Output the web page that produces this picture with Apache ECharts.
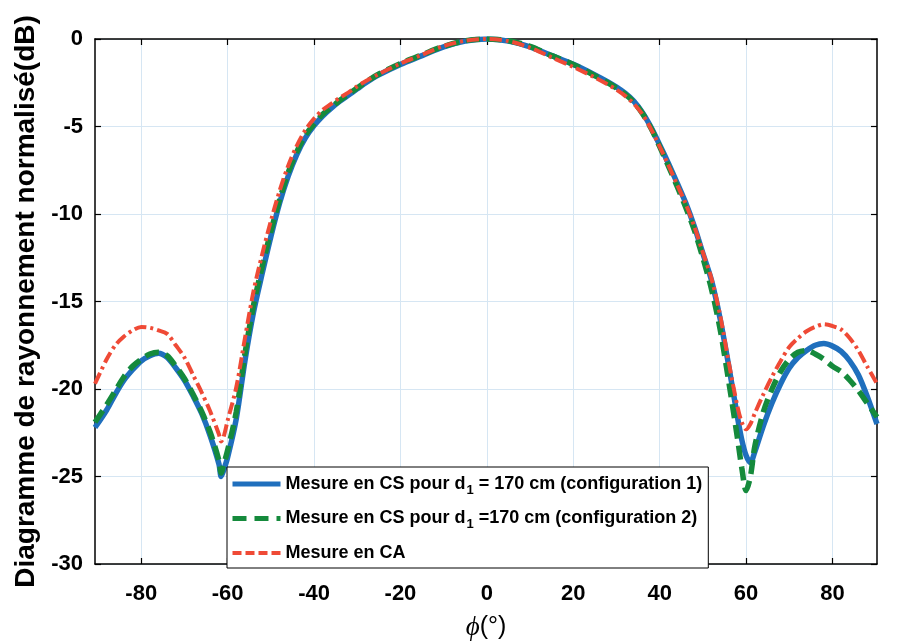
<!DOCTYPE html>
<html>
<head>
<meta charset="utf-8">
<script src="https://cdn.jsdelivr.net/npm/echarts@6/dist/echarts.min.js"></script>
<style>html,body{margin:0;padding:0;background:#fff;}#c{width:900px;height:642px;}</style>
</head>
<body>
<div id="c"></div>
<script>
// Angle (degrees)
const phi = [-90.7,-88,-86,-84,-82,-80,-78,-76,-74,-72,-70,-68,-66,-64,-62,-61.5,-61,-60,-58,-56,-54,-52,-50,-48,-46,-44,-42,-40,-38,-36,-34,-32,-30,-28,-25,-20,-15,-10,-5,0,
  5,10,15,20,25,28,30,32,34,36,38,40,42,44,46,48,50,52,54,56,58,59,60,61,62,64,66,68,70,72,74,76,78,80,82,84,86,88,90.3];
// Mesure en CS pour d1 = 170 cm (configuration 1)
const cs1 = [-22.2,-21.2,-20.3,-19.5,-18.9,-18.4,-18.1,-17.95,-18.2,-18.8,-19.5,-20.4,-21.4,-22.7,-24.3,-25.0,-24.7,-23.9,-21.7,-18.4,-15.6,-13.4,-11.3,-9.4,-7.85,-6.6,-5.65,-4.95,-4.4,-3.95,-3.55,-3.2,-2.85,-2.5,-2.05,-1.45,-0.95,-0.45,-0.12,0,
  -0.12,-0.45,-0.95,-1.45,-2.05,-2.45,-2.75,-3.1,-3.55,-4.2,-5.05,-6.05,-7.1,-8.2,-9.35,-10.7,-12.25,-13.8,-16.0,-18.7,-21.6,-22.9,-23.8,-24.2,-23.6,-22.1,-20.8,-19.7,-18.8,-18.2,-17.8,-17.5,-17.4,-17.55,-17.85,-18.4,-19.2,-20.4,-22.0];
// Mesure en CS pour d1 = 170 cm (configuration 2)
const cs2 = [-21.9,-20.9,-20.1,-19.3,-18.7,-18.3,-18.0,-17.9,-18.1,-18.7,-19.4,-20.3,-21.3,-22.5,-24.1,-24.8,-24.4,-23.5,-21.3,-18.0,-15.2,-13.0,-11.0,-9.2,-7.65,-6.45,-5.5,-4.85,-4.3,-3.9,-3.5,-3.15,-2.8,-2.45,-2.0,-1.4,-0.9,-0.42,-0.1,0,
  -0.1,-0.42,-0.95,-1.45,-2.1,-2.5,-2.8,-3.15,-3.6,-4.25,-5.1,-6.15,-7.25,-8.4,-9.6,-10.9,-12.5,-14.3,-16.6,-19.6,-22.8,-24.5,-25.8,-25.0,-23.3,-21.3,-20.0,-19.0,-18.3,-17.9,-17.8,-18.0,-18.3,-18.7,-19.0,-19.5,-20.1,-20.8,-21.6];
// Mesure en CA
const ca = [-19.7,-18.3,-17.5,-17.0,-16.65,-16.45,-16.5,-16.65,-16.85,-17.5,-18.2,-19.2,-20.2,-21.3,-22.6,-23.0,-22.8,-21.8,-19.9,-17.1,-14.4,-12.3,-10.4,-8.7,-7.25,-6.1,-5.2,-4.55,-4.05,-3.7,-3.35,-3.05,-2.7,-2.4,-2.0,-1.4,-0.9,-0.4,-0.1,0,
  -0.12,-0.5,-1.05,-1.6,-2.2,-2.6,-2.9,-3.25,-3.7,-4.3,-5.15,-6.15,-7.2,-8.3,-9.4,-10.7,-12.2,-13.7,-15.8,-18.5,-21.0,-21.9,-22.3,-22.0,-21.4,-20.3,-19.3,-18.4,-17.6,-17.1,-16.7,-16.45,-16.3,-16.4,-16.6,-17.1,-17.8,-18.7,-19.7];
const xTicks = [-80,-60,-40,-20,0,20,40,60,80];
const seriesNames = ['cs1','cs2','ca'];
const legendLabels = {
  cs1: 'Mesure en CS pour d{sub|1} = 170 cm (configuration 1)',
  cs2: 'Mesure en CS pour d{sub|1} =170 cm (configuration 2)',
  ca: 'Mesure en CA'
};
const FONT = '"Liberation Sans", Arial, sans-serif';
const C1 = '#1f6fbd', C2 = '#158a3c', C3 = '#ef4a36';

const chart = echarts.init(document.getElementById('c'), null, {renderer:'canvas'});
const pairs = arr => phi.map((p,i)=>[p, arr[i]]);
const xMin = -90.7, xMax = 90.3;
const gridColor = '#d6e6f3';

chart.setOption({
  animation:false,
  backgroundColor:'#ffffff',
  grid:{left:95, right:23, top:39, bottom:78, containLabel:false, outerBoundsMode:'none'},
  xAxis:[{
    type:'value', min:xMin, max:xMax, position:'bottom',
    name:'{p|ϕ}{n|(°)}', nameLocation:'middle', nameGap:50,
    nameTextStyle:{rich:{
      p:{fontFamily:'"Liberation Serif", "DejaVu Serif", serif', fontStyle:'italic', fontSize:27, color:'#000'},
      n:{fontFamily:FONT, fontSize:25, color:'#000'}
    }},
    axisLine:{show:true, onZero:false, lineStyle:{color:'#000', width:1.5}},
    axisTick:{show:true, inside:true, length:6, customValues:xTicks, lineStyle:{color:'#000', width:1.2}},
    axisLabel:{customValues:xTicks, margin:19, fontFamily:FONT, fontWeight:'bold', fontSize:22, color:'#000'},
    splitLine:{show:true, lineStyle:{color:gridColor, width:1}}
  },{
    type:'value', min:xMin, max:xMax, position:'top',
    axisLine:{show:true, onZero:false, lineStyle:{color:'#000', width:1.5}},
    axisTick:{show:true, inside:true, length:6, customValues:xTicks, lineStyle:{color:'#000', width:1.2}},
    axisLabel:{show:false}, splitLine:{show:false}
  }],
  yAxis:[{
    type:'value', min:-30, max:0, interval:5, position:'left',
    name:'Diagramme de rayonnement normalisé(dB)', nameLocation:'middle', nameGap:53,
    nameTextStyle:{fontFamily:FONT, fontWeight:'bold', fontSize:28, color:'#000'},
    axisLine:{show:true, onZero:false, lineStyle:{color:'#000', width:1.5}},
    axisTick:{show:true, inside:true, length:6, lineStyle:{color:'#000', width:1.2}},
    axisLabel:{margin:12, fontFamily:FONT, fontWeight:'bold', fontSize:22, color:'#000'},
    splitLine:{show:true, lineStyle:{color:gridColor, width:1}}
  },{
    type:'value', min:-30, max:0, interval:5, position:'right',
    axisLine:{show:true, onZero:false, lineStyle:{color:'#000', width:1.5}},
    axisTick:{show:true, inside:true, length:6, lineStyle:{color:'#000', width:1.2}},
    axisLabel:{show:false}, splitLine:{show:false}
  }],
  legend:{
    show:true, orient:'vertical', left:227, top:467,
    data: [
      {name:'cs1', itemStyle:{opacity:0, borderWidth:0}, lineStyle:{width:5, color:C1, type:'solid'}},
      {name:'cs2', itemStyle:{opacity:0, borderWidth:0}, lineStyle:{width:5, color:C2, type:[14,8]}},
      {name:'ca', itemStyle:{opacity:0, borderWidth:0}, lineStyle:{width:4, color:C3, type:[9,4]}}
    ],
    backgroundColor:'#ffffff', borderColor:'#000', borderWidth:1,
    padding:[6,6,4,3], itemGap:11, itemWidth:48, itemHeight:14,
    formatter: n => legendLabels[n],
    textStyle:{fontFamily:FONT, fontWeight:'bold', fontSize:18, color:'#000', lineHeight:22,
      rich:{sub:{fontFamily:FONT, fontWeight:'bold', fontSize:13, color:'#000', padding:[12,0,0,1]}}}
  },
  series:[
    {name:'cs1', type:'line', data:pairs(cs1), symbol:'none', smooth:0.3, z:2,
     lineStyle:{color:C1, width:5.5}, itemStyle:{color:C1}},
    {name:'cs2', type:'line', data:pairs(cs2), symbol:'none', smooth:0.3, z:3,
     lineStyle:{color:C2, width:5.5, type:[14,7]}, itemStyle:{color:C2}},
    {name:'ca', type:'line', data:pairs(ca), symbol:'none', smooth:0.3, z:4,
     lineStyle:{color:C3, width:4, type:[12,4,3,4]}, itemStyle:{color:C3}}
  ]
});
</script>
</body>
</html>
